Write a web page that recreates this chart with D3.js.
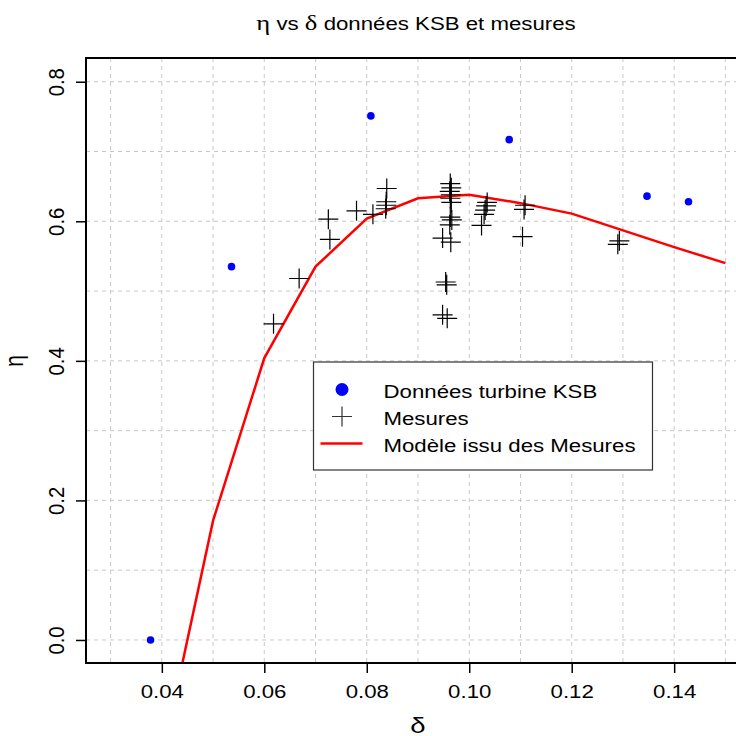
<!DOCTYPE html>
<html>
<head>
<meta charset="utf-8">
<script src="https://cdn.jsdelivr.net/npm/d3@7"></script>
<style>
  body { margin: 0; background: #fff; }
  text { font-family: "Liberation Sans", Arial, sans-serif; fill: #000; }
</style>
</head>
<body>
<svg width="736" height="736"></svg>
<script>
// model curve (red line)
const modelDelta = [0.04, 0.05, 0.06, 0.07, 0.08, 0.09, 0.10, 0.11, 0.12, 0.13, 0.14, 0.15];
const modelEta = [-0.17, 0.171, 0.404, 0.535, 0.604, 0.633, 0.638, 0.626, 0.611, 0.587, 0.563, 0.540];

// KSB turbine data (blue points)
const ksbDelta = [0.0378, 0.0536, 0.0808, 0.1078, 0.1347, 0.1428];
const ksbEta = [0.000, 0.535, 0.751, 0.717, 0.636, 0.628];

// measurements (crosses)
const mesDelta = [
    0.0618, 0.0668, 0.0725, 0.0728, 0.0780, 0.0812, 0.0839, 0.0838, 0.0838, 0.0837,
    0.0963, 0.0965, 0.0962, 0.0964, 0.0963, 0.0965,
    0.0963, 0.0966, 0.0962,
    0.0948, 0.0964,
    0.0954, 0.0956,
    0.0948, 0.0957,
    0.1035, 0.1033, 0.1031, 0.1029, 0.1024,
    0.1109, 0.1107, 0.1104,
    0.1293, 0.1290
];
const mesEta = [
    0.453, 0.518, 0.603, 0.574, 0.615, 0.610, 0.647, 0.628, 0.623, 0.618,
    0.654, 0.648, 0.643, 0.638, 0.633, 0.627,
    0.606, 0.602, 0.595,
    0.576, 0.570,
    0.513, 0.509,
    0.466, 0.461,
    0.627, 0.622, 0.616, 0.610, 0.594,
    0.623, 0.617, 0.578,
    0.572, 0.567
];

const xTicks = [0.04, 0.06, 0.08, 0.10, 0.12, 0.14];
const yTicks = [0.0, 0.2, 0.4, 0.6, 0.8];
const xGrid = d3.range(3, 16).map(d => d / 100);
const yGrid = d3.range(0, 9).map(d => d / 10);

const legendItems = [
    { label: "Données turbine KSB", kind: "dot" },
    { label: "Mesures", kind: "cross" },
    { label: "Modèle issu des Mesures", kind: "line" }
];

const STRETCH = 1.27;
const FONT = 17.5;
const GREEK = "Liberation Serif, DejaVu Serif, serif";

// widen the text along its own direction, like the original raster
function stretch(sel, k) {
    sel.each(function() {
        const w = this.getComputedTextLength();
        d3.select(this)
            .attr("textLength", w * (k || STRETCH))
            .attr("lengthAdjust", "spacingAndGlyphs");
    });
}

const svg = d3.select("svg");

const plotLeft = 86, plotRight = 750, plotTop = 58, plotBottom = 663;

const x = d3.scaleLinear()
    .domain([0.0252, 0.1548])
    .range([plotLeft, plotRight]);

const y = d3.scaleLinear()
    .domain([-0.033, 0.834])
    .range([plotBottom, plotTop]);

// clip for data marks
svg.append("clipPath")
    .attr("id", "plot-clip")
    .append("rect")
    .attr("x", plotLeft)
    .attr("y", plotTop)
    .attr("width", plotRight - plotLeft)
    .attr("height", plotBottom - plotTop);

// grid
const grid = svg.append("g")
    .attr("stroke", "#c8c8c8")
    .attr("stroke-width", 1)
    .attr("stroke-dasharray", "4,4");

grid.selectAll(".vgrid")
    .data(xGrid)
    .enter()
    .append("line")
    .attr("x1", d => x(d))
    .attr("x2", d => x(d))
    .attr("y1", plotTop)
    .attr("y2", plotBottom);

grid.selectAll(".hgrid")
    .data(yGrid)
    .enter()
    .append("line")
    .attr("x1", plotLeft)
    .attr("x2", plotRight)
    .attr("y1", d => y(d))
    .attr("y2", d => y(d));

const data = svg.append("g").attr("clip-path", "url(#plot-clip)");

// model line
const modelPoints = modelDelta.map((d, i) => [d, modelEta[i]]);
data.append("path")
    .datum(modelPoints)
    .attr("fill", "none")
    .attr("stroke", "#ff0000")
    .attr("stroke-width", 2.5)
    .attr("d", d3.line().x(d => x(d[0])).y(d => y(d[1])));

// measurement crosses
const crossPath = "M-10,0H10M0,-10V10";
data.selectAll(".mes")
    .data(mesDelta.map((d, i) => [d, mesEta[i]]))
    .enter()
    .append("path")
    .attr("class", "mes")
    .attr("transform", d => `translate(${x(d[0])},${y(d[1])})`)
    .attr("d", crossPath)
    .attr("fill", "none")
    .attr("stroke", "#000")
    .attr("stroke-width", 1.2);

// KSB points
data.selectAll(".ksb")
    .data(ksbDelta.map((d, i) => [d, ksbEta[i]]))
    .enter()
    .append("circle")
    .attr("class", "ksb")
    .attr("cx", d => x(d[0]))
    .attr("cy", d => y(d[1]))
    .attr("r", 3.8)
    .attr("fill", "#0000ff");

// axes
const xAxis = svg.append("g")
    .attr("transform", `translate(0,${plotBottom})`)
    .call(d3.axisBottom(x)
        .tickValues(xTicks)
        .tickFormat(d3.format(".2f"))
        .tickSize(10)
        .tickSizeOuter(0)
        .tickPadding(13));
xAxis.select(".domain").remove();
xAxis.selectAll("line").attr("stroke", "#000").attr("stroke-width", 1.5);
xAxis.selectAll("text")
    .attr("font-family", "Liberation Sans, Arial, sans-serif")
    .attr("font-size", FONT)
    .call(stretch);

const yAxis = svg.append("g")
    .attr("transform", `translate(${plotLeft},0)`)
    .call(d3.axisLeft(y)
        .tickValues(yTicks)
        .tickFormat(d3.format(".1f"))
        .tickSize(10)
        .tickSizeOuter(0));
yAxis.select(".domain").remove();
yAxis.selectAll("line").attr("stroke", "#000").attr("stroke-width", 1.5);
// rotated labels: widened across the screen x direction
yAxis.selectAll("text")
    .attr("font-family", "Liberation Sans, Arial, sans-serif")
    .attr("font-size", FONT)
    .attr("transform", `translate(${64 - plotLeft},0) scale(1.25,1) rotate(-90)`)
    .attr("x", 0)
    .attr("y", 0)
    .attr("dy", 0)
    .attr("text-anchor", "middle")
    .call(stretch, 1.16);

// plot box
svg.append("rect")
    .attr("x", plotLeft)
    .attr("y", plotTop)
    .attr("width", plotRight - plotLeft)
    .attr("height", plotBottom - plotTop)
    .attr("fill", "none")
    .attr("stroke", "#000")
    .attr("stroke-width", 2);

// title
const plotMid = (plotLeft + plotRight) / 2;
const title = svg.append("text")
    .attr("x", plotMid - 2)
    .attr("y", 29.5)
    .attr("text-anchor", "middle")
    .attr("font-size", FONT);
title.append("tspan").attr("font-family", GREEK).attr("font-size", 21).text("η");
title.append("tspan").text(" vs ");
title.append("tspan").attr("font-family", GREEK).attr("font-size", 21).text("δ");
title.append("tspan").text(" données KSB et mesures");
title.call(stretch);

// axis labels
svg.append("text")
    .attr("transform", `translate(${plotMid},733) scale(1.25,1)`)
    .attr("text-anchor", "middle")
    .attr("font-size", 22)
    .attr("font-family", GREEK)
    .text("δ");

svg.append("text")
    .attr("transform", `translate(23,${y(0.4)}) scale(1.25,1) rotate(-90)`)
    .attr("text-anchor", "middle")
    .attr("font-size", 21)
    .attr("font-family", GREEK)
    .text("η");

// legend
const legend = svg.append("g").attr("transform", "translate(313.5,362)");
legend.append("rect")
    .attr("width", 339)
    .attr("height", 108)
    .attr("fill", "#fff")
    .attr("stroke", "#333")
    .attr("stroke-width", 1.2);

const rows = legend.selectAll(".leg-row")
    .data(legendItems)
    .enter()
    .append("g")
    .attr("transform", (d, i) => `translate(0,${27.5 + i * 27})`);

rows.filter(d => d.kind === "dot")
    .append("circle")
    .attr("cx", 28.5)
    .attr("cy", 0)
    .attr("r", 6.5)
    .attr("fill", "#0000ff");

rows.filter(d => d.kind === "cross")
    .append("path")
    .attr("transform", "translate(28.5,0)")
    .attr("d", crossPath)
    .attr("stroke", "#333")
    .attr("stroke-width", 1.2);

rows.filter(d => d.kind === "line")
    .append("line")
    .attr("x1", 7)
    .attr("x2", 49)
    .attr("stroke", "#ff0000")
    .attr("stroke-width", 2.5);

rows.append("text")
    .attr("x", 70)
    .attr("y", 8)
    .attr("font-size", FONT)
    .text(d => d.label)
    .call(stretch);
</script>
</body>
</html>
